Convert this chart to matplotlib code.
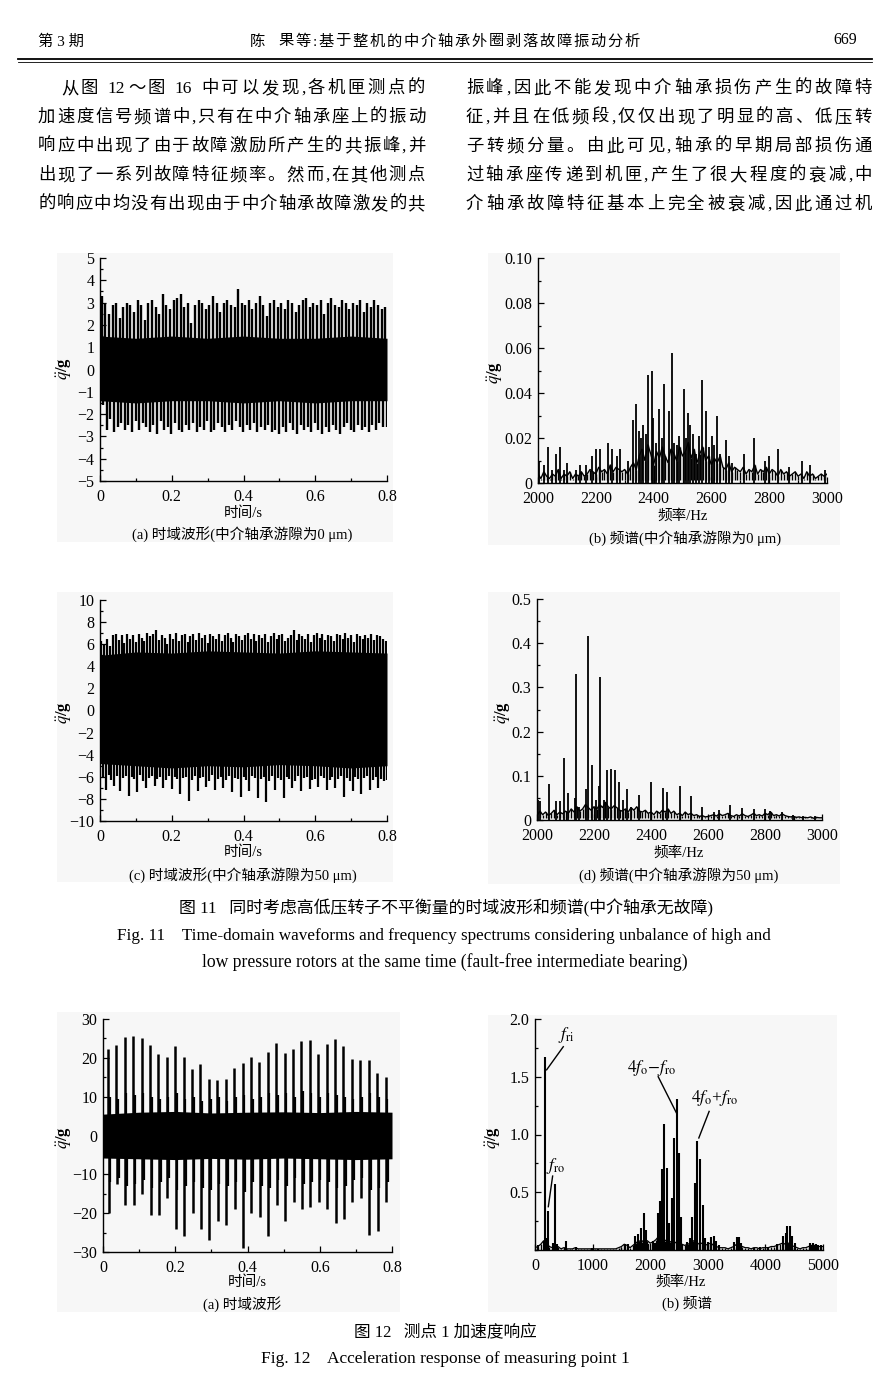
import numpy as np
import matplotlib
matplotlib.use('Agg')
import matplotlib.pyplot as plt
from matplotlib.ticker import MultipleLocator, FixedLocator, FuncFormatter
from matplotlib.patches import Rectangle
from matplotlib.lines import Line2D

plt.rcParams['font.family'] = ['Liberation Serif', 'Noto Sans CJK SC']
plt.rcParams['mathtext.fontset'] = 'stix'
FAM = ['Liberation Serif', 'Noto Sans CJK SC']

# ---------------- data ----------------
# Fig.11(a) time waveform, clearance 0 um (pulse peaks every 0.01 s)
a_up = [3.3, 3.0, 2.5, 2.9, 3.0, 2.3, 2.8, 3.0, 2.9, 2.6,
        3.1, 2.9, 2.2, 3.0, 3.1, 2.8, 2.5, 3.4, 2.9, 2.7,
        3.1, 3.2, 3.4, 2.8, 3.0, 2.1, 2.9, 3.1, 3.0, 2.7,
        2.9, 3.3, 3.0, 2.6, 3.0, 3.1, 2.9, 2.8, 3.6, 3.0,
        2.9, 3.1, 2.7, 3.0, 3.3, 2.9, 2.4, 3.0, 3.1, 2.8,
        3.0, 2.7, 3.1, 3.0, 2.6, 2.9, 3.1, 3.2, 2.8, 3.0,
        2.9, 3.1, 2.5, 3.0, 3.2, 2.9, 2.8, 3.1, 3.0, 2.7,
        3.0, 2.9, 3.1, 2.6, 3.0, 2.8, 3.1, 2.9, 2.7, 2.8]
a_dn = [-1.6, -2.7, -2.2, -2.8, -2.6, -2.4, -2.7, -2.5, -2.8, -2.3,
        -2.7, -2.4, -2.6, -2.8, -2.5, -2.9, -2.3, -2.7, -2.6, -2.9,
        -2.4, -2.7, -2.8, -2.5, -2.7, -2.4, -2.8, -2.6, -2.7, -2.3,
        -2.8, -2.7, -2.4, -2.6, -2.8, -2.5, -2.7, -2.3, -2.6, -2.8,
        -2.5, -2.7, -2.4, -2.8, -2.6, -2.7, -2.5, -2.8, -2.7, -2.9,
        -2.6, -2.8, -2.4, -2.7, -2.9, -2.5, -2.7, -2.6, -2.8, -2.4,
        -2.7, -2.9, -2.6, -2.8, -2.5, -2.7, -2.9, -2.6, -2.4, -2.7,
        -2.8, -2.5, -2.7, -2.6, -2.8, -2.5, -2.7, -2.4, -2.6, -2.6]
a_body_t = [0.0, 0.1, 0.2, 0.3, 0.4, 0.5, 0.6, 0.7, 0.8]
a_body_hi = [1.5, 1.4, 1.5, 1.4, 1.5, 1.4, 1.4, 1.5, 1.4]
a_body_lo = [-1.4, -1.5, -1.4, -1.4, -1.5, -1.4, -1.5, -1.4, -1.4]

# Fig.11(b) spectrum, clearance 0 um
b_floor = [0.004, 0.002, 0.005, 0.003, 0.002, 0.004, 0.003, 0.006, 0.002, 0.004,
           0.003, 0.005, 0.002, 0.004, 0.003, 0.005, 0.003, 0.004, 0.006, 0.005,
           0.004, 0.007, 0.005, 0.006, 0.004, 0.008, 0.005, 0.007, 0.006, 0.005,
           0.006, 0.004, 0.007, 0.009, 0.006, 0.012, 0.015, 0.010, 0.017, 0.013,
           0.008, 0.014, 0.011, 0.016, 0.012, 0.009, 0.015, 0.013, 0.010, 0.016,
           0.012, 0.014, 0.018, 0.011, 0.015, 0.009, 0.013, 0.016, 0.010, 0.012,
           0.008, 0.011, 0.009, 0.012, 0.007, 0.006, 0.009, 0.005, 0.007, 0.006,
           0.005, 0.007, 0.004, 0.006, 0.005, 0.008, 0.004, 0.006, 0.005, 0.007,
           0.004, 0.006, 0.005, 0.003, 0.006, 0.004, 0.005, 0.003, 0.004, 0.005,
           0.003, 0.004, 0.002, 0.005, 0.003, 0.004, 0.002, 0.003, 0.004, 0.003,
           0.004]
b_peak_f = [2003, 2021, 2035, 2050, 2061, 2075, 2089, 2102, 2133, 2145,
            2165, 2187, 2202, 2214, 2243, 2255, 2272, 2283, 2312, 2327,
            2339, 2350, 2364, 2379, 2393, 2399, 2420, 2436, 2452, 2462,
            2489, 2504, 2518, 2526, 2545, 2557, 2566, 2580, 2601, 2621,
            2650, 2673, 2714, 2746, 2784, 2798, 2830, 2870, 2913, 2942,
            2994, 2355, 2372, 2410, 2430, 2470, 2480, 2512, 2535, 2590,
            2610, 2630, 2660]
b_peak_a = [0.010, 0.008, 0.016, 0.006, 0.013, 0.016, 0.006, 0.009, 0.006, 0.008,
            0.008, 0.012, 0.015, 0.015, 0.018, 0.015, 0.012, 0.015, 0.010, 0.028,
            0.035, 0.023, 0.026, 0.048, 0.050, 0.029, 0.033, 0.044, 0.032, 0.058,
            0.021, 0.042, 0.031, 0.026, 0.013, 0.021, 0.046, 0.032, 0.021, 0.030,
            0.019, 0.009, 0.013, 0.020, 0.010, 0.012, 0.015, 0.007, 0.010, 0.008,
            0.006, 0.020, 0.022, 0.018, 0.020, 0.018, 0.017, 0.020, 0.022, 0.016,
            0.017, 0.013, 0.012]

# Fig.11(c) time waveform, clearance 50 um (pulse peaks every 0.008 s)
c_up = [6.3, 6.0, 6.5, 5.8, 6.8, 6.9, 6.4, 6.8, 6.1, 6.9,
        6.5, 6.8, 6.2, 6.9, 6.6, 6.3, 7.0, 6.7, 6.9, 7.3,
        6.4, 6.8, 6.6, 6.0, 6.9, 6.5, 7.0, 6.3, 6.8, 6.9,
        6.2, 6.7, 6.9, 6.4, 7.0, 6.6, 6.8, 6.1, 6.9, 6.7,
        6.5, 6.9, 6.3, 6.8, 7.0, 6.6, 6.2, 6.9, 6.7, 6.4,
        6.8, 7.0, 6.5, 6.9, 6.3, 6.8, 6.6, 6.9, 6.2, 6.7,
        7.0, 6.5, 6.8, 6.9, 6.3, 6.6, 6.8, 7.3, 6.4, 6.9,
        6.7, 6.5, 6.9, 6.2, 6.8, 7.0, 6.6, 6.9, 6.4, 6.8,
        6.7, 6.3, 6.9, 6.8, 6.5, 7.0, 6.6, 6.8, 6.2, 6.9,
        6.7, 6.5, 6.8, 6.6, 6.9, 6.4, 6.8, 6.7, 6.5, 6.3]
c_dn = [-6.0, -7.2, -5.8, -6.3, -6.8, -5.9, -7.3, -6.1, -5.9, -7.7,
        -6.0, -6.2, -7.4, -5.8, -6.4, -7.0, -6.1, -5.9, -6.8, -6.2,
        -6.0, -7.0, -6.3, -5.9, -7.1, -6.0, -6.2, -7.6, -6.1, -6.0,
        -8.2, -6.3, -5.9, -7.3, -6.1, -6.0, -6.9, -6.4, -5.8, -7.2,
        -6.2, -6.0, -7.0, -6.3, -5.9, -7.4, -6.1, -6.2, -7.8, -6.0,
        -6.3, -7.3, -5.9, -6.1, -7.9, -6.2, -6.0, -8.3, -6.4, -5.9,
        -7.2, -6.1, -6.3, -7.9, -6.0, -6.2, -7.0, -6.4, -5.9, -7.3,
        -6.1, -6.0, -7.1, -6.3, -6.2, -6.9, -5.9, -6.1, -7.2, -6.3,
        -6.0, -7.0, -6.2, -5.9, -7.8, -6.1, -6.4, -7.3, -6.0, -6.2,
        -7.6, -6.1, -5.9, -7.2, -6.3, -6.0, -7.0, -6.2, -6.4, -6.3]
c_body_t = [0.0, 0.1, 0.2, 0.3, 0.4, 0.5, 0.6, 0.7, 0.8]
c_body_hi = [5.0, 5.3, 5.2, 5.4, 5.3, 5.2, 5.4, 5.3, 5.2]
c_body_lo = [-4.8, -5.0, -5.2, -5.0, -5.1, -4.9, -5.0, -5.2, -5.0]

# Fig.11(d) spectrum, clearance 50 um
d_floor = [0.010, 0.020, 0.012, 0.018, 0.010, 0.015, 0.022, 0.012, 0.018, 0.014,
           0.020, 0.015, 0.025, 0.018, 0.030, 0.020, 0.025, 0.035, 0.028, 0.022,
           0.030, 0.025, 0.035, 0.028, 0.040, 0.030, 0.025, 0.032, 0.028, 0.022,
           0.020, 0.025, 0.018, 0.028, 0.022, 0.030, 0.020, 0.018, 0.022, 0.015,
           0.018, 0.012, 0.020, 0.015, 0.022, 0.018, 0.025, 0.015, 0.020, 0.012,
           0.015, 0.010, 0.018, 0.012, 0.015, 0.010, 0.012, 0.008, 0.010, 0.007,
           0.008, 0.010, 0.012, 0.009, 0.014, 0.010, 0.012, 0.015, 0.010, 0.008,
           0.012, 0.009, 0.014, 0.010, 0.008, 0.011, 0.015, 0.010, 0.012, 0.009,
           0.015, 0.012, 0.018, 0.010, 0.012, 0.009, 0.014, 0.010, 0.008, 0.007,
           0.008, 0.006, 0.007, 0.005, 0.006, 0.005, 0.007, 0.004, 0.006, 0.005,
           0.005]
d_peak_f = [2004, 2012, 2041, 2068, 2082, 2095, 2109, 2132, 2137, 2149,
            2173, 2178, 2193, 2207, 2216, 2220, 2234, 2247, 2260, 2274,
            2288, 2302, 2317, 2330, 2359, 2401, 2442, 2456, 2500, 2539,
            2580, 2620, 2637, 2676, 2718, 2760, 2801, 2819, 2860, 2898,
            2933, 2977]
d_peak_a = [0.045, 0.042, 0.082, 0.044, 0.044, 0.140, 0.062, 0.049, 0.330, 0.030,
            0.070, 0.417, 0.125, 0.045, 0.076, 0.323, 0.045, 0.113, 0.116, 0.113,
            0.085, 0.045, 0.070, 0.030, 0.057, 0.085, 0.072, 0.064, 0.077, 0.055,
            0.030, 0.019, 0.022, 0.034, 0.028, 0.026, 0.025, 0.020, 0.017, 0.011,
            0.009, 0.008]

# Fig.12(a) time waveform, measuring point 1 (impacts every 0.02328 s)
e_up = [22.4, 23.3, 25.3, 25.6, 25.2, 23.4, 21.0, 20.2, 23.1, 20.3,
        17.0, 18.3, 14.5, 14.3, 14.6, 17.3, 18.6, 20.3, 19.0, 21.5,
        23.7, 21.2, 22.4, 24.4, 24.6, 21.0, 23.5, 24.8, 23.1, 19.6,
        19.4, 19.4, 16.0, 15.1]
e_dn = [-20.0, -12.5, -18.0, -18.0, -15.0, -20.5, -20.5, -16.0, -24.0, -25.8,
        -20.0, -24.0, -27.0, -22.0, -23.0, -19.0, -29.0, -20.0, -21.0, -26.0,
        -18.0, -22.0, -17.0, -19.0, -18.5, -17.0, -19.0, -22.5, -21.5, -17.0,
        -16.0, -25.5, -24.5, -17.0]
e_up2 = [10.0, 9.5, 11.0, 10.5, 11.0, 10.0, 9.5, 10.0, 11.0, 9.5,
         10.0, 9.0, 9.5, 10.0, 9.0, 10.0, 10.5, 9.5, 10.0, 11.0,
         10.5, 11.0, 10.0, 11.5, 11.0, 10.0, 11.0, 10.5, 10.0, 9.5,
         10.0, 11.0, 10.0, 9.5]
e_dn2 = [-12.0, -11.0, -13.0, -12.5, -11.5, -13.5, -12.0, -11.0, -14.0, -13.0,
         -12.0, -13.5, -14.0, -12.5, -13.0, -12.0, -14.5, -12.0, -13.0, -13.5,
         -11.5, -13.0, -11.0, -12.5, -12.0, -11.5, -12.0, -13.5, -13.0, -11.5,
         -11.0, -14.0, -13.5, -12.0]
e_body_t = [0.0, 0.1, 0.2, 0.3, 0.4, 0.5, 0.6, 0.7, 0.8]
e_body_hi = [5.5, 6.0, 6.2, 5.8, 6.0, 6.1, 5.9, 6.2, 6.0]
e_body_lo = [-5.8, -6.0, -6.2, -5.9, -6.1, -5.8, -6.0, -6.2, -6.0]

# Fig.12(b) spectrum, measuring point 1
f_floor = [0.02, 0.03, 0.05, 0.08, 0.06, 0.03, 0.02, 0.02, 0.03, 0.01,
           0.02, 0.01, 0.01, 0.01, 0.02, 0.01, 0.01, 0.01, 0.01, 0.01,
           0.01, 0.01, 0.01, 0.01, 0.01, 0.01, 0.01, 0.01, 0.01, 0.02,
           0.03, 0.05, 0.04, 0.02, 0.04, 0.06, 0.08, 0.07, 0.09, 0.08,
           0.06, 0.07, 0.09, 0.12, 0.10, 0.08, 0.09, 0.07, 0.08, 0.06,
           0.07, 0.05, 0.04, 0.05, 0.06, 0.08, 0.07, 0.05, 0.06, 0.04,
           0.05, 0.06, 0.04, 0.03, 0.02, 0.02, 0.02, 0.01, 0.02, 0.03,
           0.05, 0.04, 0.03, 0.02, 0.02, 0.01, 0.02, 0.02, 0.01, 0.02,
           0.02, 0.02, 0.03, 0.03, 0.04, 0.05, 0.06, 0.05, 0.06, 0.04,
           0.03, 0.02, 0.01, 0.02, 0.02, 0.03, 0.04, 0.04, 0.03, 0.03,
           0.03]
f_peak_f = [60, 150, 179, 200, 220, 306, 347, 387, 538, 711,
            983, 1100, 1560, 1610, 1740, 1790, 1840, 1890, 1930, 1970,
            2040, 2080, 2130, 2165, 2202, 2243, 2289, 2330, 2376, 2416,
            2457, 2497, 2543, 2640, 2690, 2734, 2786, 2821, 2867, 2908,
            2960, 3010, 3060, 3100, 3150, 3200, 3460, 3500, 3540, 3580,
            3800, 3900, 4050, 4200, 4300, 4350, 4380, 4420, 4470, 4510,
            4780, 4820, 4870, 4920, 4970]
f_peak_a = [0.04, 0.08, 1.67, 0.10, 0.34, 0.06, 0.57, 0.05, 0.075, 0.03,
            0.02, 0.01, 0.05, 0.05, 0.12, 0.14, 0.19, 0.32, 0.17, 0.05,
            0.08, 0.06, 0.32, 0.42, 0.70, 1.09, 0.71, 0.23, 0.45, 0.97,
            1.31, 0.84, 0.29, 0.07, 0.10, 0.29, 0.58, 0.94, 0.79, 0.39,
            0.10, 0.07, 0.11, 0.12, 0.08, 0.04, 0.07, 0.11, 0.11, 0.06,
            0.02, 0.03, 0.03, 0.05, 0.12, 0.15, 0.21, 0.21, 0.12, 0.06,
            0.06, 0.06, 0.05, 0.04, 0.04]

# ---------------- figure ----------------
W, H = 890, 1398
fig = plt.figure(figsize=(W / 100, H / 100), dpi=100)
fig.patch.set_facecolor('white')


def fx(x):
    return x / W


def fy(y):
    return 1 - y / H


renderer = fig.canvas.get_renderer()


def tokenize(s):
    toks = []
    cur = ''
    for ch in s:
        if ch.isascii() and (ch.isalnum() or ch in '.'):
            cur += ch
        else:
            if cur:
                toks.append(cur)
                cur = ''
            toks.append(ch)
    if cur:
        toks.append(cur)
    return toks


def justified(s, x0, x1, y, size):
    toks = tokenize(s)
    objs, widths = [], []
    for t in toks:
        if t == ' ':
            objs.append(None)
            widths.append(size * 0.35)
            continue
        o = fig.text(0, 0, t, fontsize=size, family=FAM, va='center', ha='left')
        objs.append(o)
        widths.append(o.get_window_extent(renderer).width)
    n_gaps = len(toks) - 1
    gap = (x1 - x0 - sum(widths)) / n_gaps if n_gaps > 0 else 0
    x = x0
    for o, w in zip(objs, widths):
        if o is not None:
            o.set_position((fx(x), fy(y)))
        x += w + gap


def ftext(x, y, s, size=10.5, ha='center', **kw):
    return fig.text(fx(x), fy(y), s, fontsize=size, family=FAM, ha=ha, va='center', **kw)


# header
ftext(38, 42, '第 3 期', 11, ha='left')
justified('陈  果等:基于整机的中介轴承外圈剥落故障振动分析', 250, 640, 42, 11)
ftext(857, 40, '669', 11.5, ha='right')
fig.add_artist(Line2D([fx(18), fx(872)], [fy(58.5), fy(58.5)], color='black', lw=1.3))
fig.add_artist(Line2D([fx(18), fx(872)], [fy(62), fy(62)], color='black', lw=0.6))

# body paragraph
left_lines = ['从图 12～图 16 中可以发现,各机匣测点的',
              '加速度信号频谱中,只有在中介轴承座上的振动',
              '响应中出现了由于故障激励所产生的共振峰,并',
              '出现了一系列故障特征频率。然而,在其他测点',
              '的响应中均没有出现由于中介轴承故障激发的共']
right_lines = ['振峰,因此不能发现中介轴承损伤产生的故障特',
               '征,并且在低频段,仅仅出现了明显的高、低压转',
               '子转频分量。由此可见,轴承的早期局部损伤通',
               '过轴承座传递到机匣,产生了很大程度的衰减,中',
               '介轴承故障特征基本上完全被衰减,因此通过机']
rows = [89, 118, 147, 176, 205]
for i, (ln, y) in enumerate(zip(left_lines, rows)):
    justified(ln, 61 if i == 0 else 38, 425, y, 12.5)
for ln, y in zip(right_lines, rows):
    justified(ln, 466, 872, y, 12.5)

# panel backgrounds
for (x0, y0, x1, y1) in [(57, 253, 393, 542), (488, 253, 840, 545),
                         (57, 592, 393, 882), (488, 592, 840, 884),
                         (57, 1012, 400, 1312), (488, 1015, 837, 1312)]:
    fig.patches.append(Rectangle((fx(x0), fy(y1)), (x1 - x0) / W, (y1 - y0) / H,
                                 transform=fig.transFigure, facecolor='#f7f7f7',
                                 edgecolor='none', zorder=-10))


def add_ax(l, t, r, b):
    ax = fig.add_axes([fx(l), fy(b), (r - l) / W, (b - t) / H])
    ax.set_facecolor('none')
    for s in ['top', 'right']:
        ax.spines[s].set_visible(False)
    for s in ['left', 'bottom']:
        ax.spines[s].set_linewidth(1.0)
    ax.tick_params(which='both', direction='in', labelsize=11.5, width=0.9)
    ax.tick_params(which='major', length=4)
    ax.tick_params(which='minor', length=2.5)
    ax.tick_params(axis='y', pad=4)
    ax.tick_params(axis='x', pad=5.5)
    return ax


def fmt_g(v, p):
    if abs(v) < 1e-12:
        return '0'
    return ('%g' % v).replace('-', '\u2212')


def fmt_2(v, p):
    return '0' if abs(v) < 1e-12 else '%.2f' % v


def fmt_1(v, p):
    return '0' if abs(v) < 1e-12 else '%.1f' % v


YL = r'$\ddot{q}$/g'


def time_axis(ax):
    ax.set_xlim(0, 0.8)
    ax.xaxis.set_major_locator(MultipleLocator(0.2))
    ax.xaxis.set_minor_locator(MultipleLocator(0.1))
    ax.xaxis.set_major_formatter(FuncFormatter(fmt_g))


def freq_axis(ax):
    ax.set_xlim(2000, 3000)
    ax.xaxis.set_major_locator(MultipleLocator(200))
    ax.xaxis.set_minor_locator(MultipleLocator(100))


# ---- (a)
ax = add_ax(100, 258, 387, 481)
ta = (np.arange(len(a_up)) + 0.5) * 0.8 / len(a_up)
ax.fill_between(a_body_t, a_body_lo, a_body_hi, color='black', lw=0)
ax.vlines(ta, 0, a_up, color='black', lw=1.7)
ax.vlines(ta + 0.004, a_dn, 0, color='black', lw=1.7)
time_axis(ax)
ax.set_ylim(-5, 5)
ax.yaxis.set_major_locator(MultipleLocator(1))
ax.yaxis.set_minor_locator(MultipleLocator(0.5))
ax.yaxis.set_major_formatter(FuncFormatter(fmt_g))
ftext(64, 368, YL, 12, rotation=90, fontweight='bold')
ftext(243, 513, '时间/s', 10.5)
ftext(242, 534, '(a) 时域波形(中介轴承游隙为0 μm)', 10.5)

# ---- (b)
ax = add_ax(538, 258, 827, 483)
fb = np.linspace(2000, 3000, len(b_floor))
ax.vlines(fb, 0.0015, b_floor, color='black', lw=1.0)
ax.plot(fb, b_floor, color='black', lw=1.0)
ax.vlines(b_peak_f, 0, b_peak_a, color='black', lw=1.3)
freq_axis(ax)
ax.set_ylim(0, 0.10)
ax.yaxis.set_major_locator(MultipleLocator(0.02))
ax.yaxis.set_minor_locator(MultipleLocator(0.01))
ax.yaxis.set_major_formatter(FuncFormatter(fmt_2))
ftext(495, 372, YL, 12, rotation=90, fontweight='bold')
ftext(683, 516, '频率/Hz', 10.5)
ftext(685, 538, '(b) 频谱(中介轴承游隙为0 μm)', 10.5)

# ---- (c)
ax = add_ax(100, 600, 387, 821)
tc = (np.arange(len(c_up)) + 0.5) * 0.8 / len(c_up)
ax.fill_between(c_body_t, c_body_lo, c_body_hi, color='black', lw=0)
ax.vlines(tc, 0, c_up, color='black', lw=1.6)
ax.vlines(tc + 0.004, c_dn, 0, color='black', lw=1.6)
time_axis(ax)
ax.set_ylim(-10, 10)
ax.yaxis.set_major_locator(MultipleLocator(2))
ax.yaxis.set_minor_locator(MultipleLocator(1))
ax.yaxis.set_major_formatter(FuncFormatter(fmt_g))
ftext(64, 712, YL, 12, rotation=90, fontweight='bold')
ftext(243, 852, '时间/s', 10.5)
ftext(243, 875, '(c) 时域波形(中介轴承游隙为50 μm)', 10.5)

# ---- (d)
ax = add_ax(537, 599, 822, 820)
fd = np.linspace(2000, 3000, len(d_floor))
ax.vlines(fd, 0.005, d_floor, color='black', lw=1.0)
ax.plot(fd, d_floor, color='black', lw=1.0)
ax.vlines(d_peak_f, 0, d_peak_a, color='black', lw=1.3)
freq_axis(ax)
ax.set_ylim(0, 0.5)
ax.yaxis.set_major_locator(MultipleLocator(0.1))
ax.yaxis.set_minor_locator(MultipleLocator(0.05))
ax.yaxis.set_major_formatter(FuncFormatter(fmt_1))
ftext(503, 712, YL, 12, rotation=90, fontweight='bold')
ftext(679, 853, '频率/Hz', 10.5)
ftext(679, 875, '(d) 频谱(中介轴承游隙为50 μm)', 10.5)

# figure 11 caption
ftext(446, 908, '图 11   同时考虑高低压转子不平衡量的时域波形和频谱(中介轴承无故障)', 12.2)
ftext(117, 936, 'Fig. 11    Time-domain waveforms and frequency spectrums considering unbalance of high and',
      12.3, ha='left')
ftext(445, 962, 'low pressure rotors at the same time (fault-free intermediate bearing)', 12.7)

# ---- (e) Fig.12(a)
ax = add_ax(103, 1019, 392, 1252)
te = 0.0138 + np.arange(len(e_up)) * 0.02328
ax.fill_between(e_body_t, e_body_lo, e_body_hi, color='black', lw=0)
ax.vlines(te, 0, e_up, color='black', lw=1.8)
ax.vlines(te + 0.0015, e_dn, 0, color='black', lw=1.8)
ax.vlines(te + 0.0045, 0, e_up2, color='black', lw=1.6)
ax.vlines(te + 0.006, e_dn2, 0, color='black', lw=1.6)
time_axis(ax)
ax.set_ylim(-30, 30)
ax.yaxis.set_major_locator(MultipleLocator(10))
ax.yaxis.set_minor_locator(MultipleLocator(5))
ax.yaxis.set_major_formatter(FuncFormatter(fmt_g))
ftext(64, 1137, YL, 12, rotation=90, fontweight='bold')
ftext(247, 1282, '时间/s', 10.5)
ftext(242, 1304, '(a) 时域波形', 10.5)

# ---- (f) Fig.12(b)
ax = add_ax(535, 1019, 823, 1250)
ff = np.linspace(0, 5000, len(f_floor))
ax.vlines(ff, 0, f_floor, color='black', lw=1.0)
ax.plot(ff, f_floor, color='black', lw=0.9)
ax.vlines(f_peak_f, 0, f_peak_a, color='black', lw=1.5)
ax.set_xlim(0, 5000)
ax.xaxis.set_major_locator(MultipleLocator(1000))
ax.xaxis.set_minor_locator(MultipleLocator(500))
ax.set_ylim(0, 2.0)
ax.yaxis.set_major_locator(FixedLocator([0.5, 1.0, 1.5, 2.0]))
ax.yaxis.set_minor_locator(MultipleLocator(0.25))
ax.yaxis.set_major_formatter(FuncFormatter(fmt_1))
ax.plot([202, 491], [1.56, 1.76], color='black', lw=1.0)
ax.text(540, 1.86, r'$f_{\rm ri}$', fontsize=12.5, ha='center', va='center')
ax.plot([231, 306], [0.375, 0.64], color='black', lw=1.0)
ax.text(364, 0.73, r'$f_{\rm ro}$', fontsize=12.5, ha='center', va='center')
ax.plot([2457, 2139], [1.185, 1.50], color='black', lw=1.0)
ax.text(2023, 1.575, r'$4f_{\rm o}$$-$$f_{\rm ro}$', fontsize=12.5, ha='center', va='center')
ax.plot([2844, 3023], [0.97, 1.20], color='black', lw=1.0)
ax.text(3121, 1.32, r'$4f_{\rm o}$+$f_{\rm ro}$', fontsize=12.5, ha='center', va='center')
ftext(493, 1137, YL, 12, rotation=90, fontweight='bold')
ftext(681, 1282, '频率/Hz', 10.5)
ftext(687, 1303, '(b) 频谱', 10.5)

# figure 12 caption
ftext(445, 1333, '图 12   测点 1 加速度响应', 12)
ftext(445, 1359, 'Fig. 12    Acceleration response of measuring point 1', 12.5)

fig.savefig('out.png', dpi=100, facecolor='white')
